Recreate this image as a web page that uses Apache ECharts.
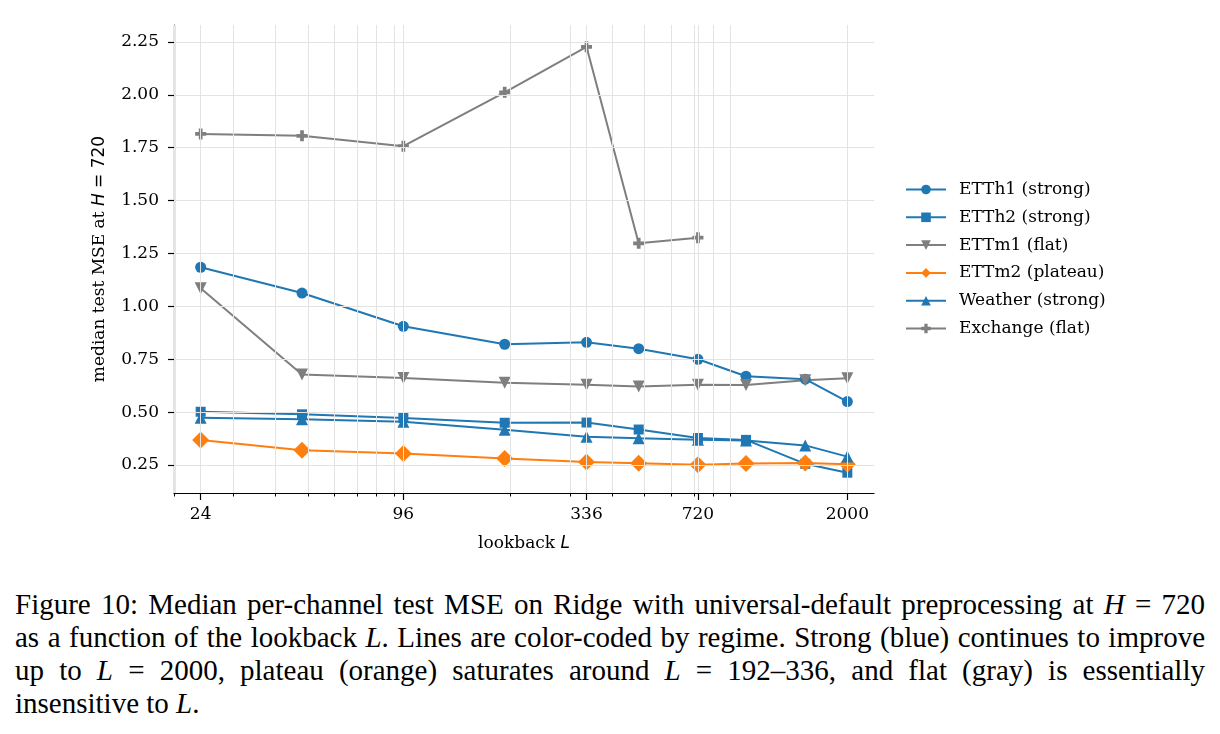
<!DOCTYPE html>
<html>
<head>
<meta charset="utf-8">
<title>Median test MSE vs lookback</title>
<script src="https://cdn.jsdelivr.net/npm/echarts@6/dist/echarts.min.js"></script>
<style>
  body { margin: 0; background: #fff; }
  #chart { position: absolute; left: 0; top: 0; width: 1220px; height: 570px; }
  #caption {
    position: absolute; left: 15px; top: 588px; width: 1190px;
    font-family: "Liberation Serif", serif; font-size: 29px; line-height: 33px;
    color: #000;
  }
  #caption .ln { white-space: nowrap; text-align: justify; text-align-last: justify; }
  #caption .last { white-space: nowrap; }
  #caption i { font-style: italic; }
</style>
</head>
<body>
<div id="chart"></div>
<div id="caption">
  <div class="ln">Figure 10: Median per-channel test MSE on Ridge with universal-default preprocessing at <i>H</i> = 720</div>
  <div class="ln">as a function of the lookback <i>L</i>. Lines are color-coded by regime. Strong (blue) continues to improve</div>
  <div class="ln">up to <i>L</i> = 2000, plateau (orange) saturates around <i>L</i> = 192&ndash;336, and flat (gray) is essentially</div>
  <div class="last">insensitive to <i>L</i>.</div>
</div>
<script>
// lookback values (x) and tick positions
const lookbacks = [24, 48, 96, 192, 336, 480, 720, 1000, 1500, 2000]
const xMajorTicks = [24, 96, 336, 720, 2000]
const xMinorTicks = [20, 30, 40, 50, 60, 70, 80, 90, 200, 300, 400, 500, 600, 700, 800, 900, 2000]
const yTicks = [0.25, 0.5, 0.75, 1.0, 1.25, 1.5, 1.75, 2.0, 2.25]

// median test MSE at H = 720
const etth1 = [1.185, 1.063, 0.906, 0.821, 0.830, 0.800, 0.750, 0.670, 0.656, 0.550]
const etth2 = [0.502, 0.490, 0.473, 0.450, 0.451, 0.418, 0.378, 0.369, 0.256, 0.214]
const ettm1 = [1.086, 0.678, 0.661, 0.639, 0.630, 0.621, 0.630, 0.629, 0.651, 0.660]
const ettm2 = [0.368, 0.320, 0.305, 0.281, 0.265, 0.259, 0.252, 0.258, 0.260, 0.254]
const weather = [0.474, 0.467, 0.455, 0.417, 0.384, 0.377, 0.370, 0.366, 0.343, 0.290]
const exchange = [1.815, 1.806, 1.757, 2.012, 2.227, 1.298, 1.325]

const BLUE = '#1f77b4'
const ORANGE = '#ff7f0e'
const GRAY = '#7f7f7f'
const GRID = '#e3e3e3'
const PLUS = 'path://M0.33,0H0.67V0.33H1V0.67H0.67V1H0.33V0.67H0V0.33H0.33Z'

function pairs(vals) {
  return vals.map((v, i) => [lookbacks[i], v])
}

function lineSeries(name, vals, color, symbol, size, rotate) {
  return {
    name: name,
    type: 'line',
    data: pairs(vals),
    xAxisIndex: 0,
    yAxisIndex: 0,
    symbol: symbol,
    symbolSize: size,
    symbolRotate: rotate || 0,
    showAllSymbol: true,
    z: 3,
    lineStyle: { color: color, width: 2 },
    itemStyle: { color: color },
    emphasis: { disabled: true }
  }
}

const chart = echarts.init(document.getElementById('chart'))

const gridLines = []
xMajorTicks.concat(xMinorTicks).forEach(v => gridLines.push({ xAxis: v }))
yTicks.forEach(v => gridLines.push({ yAxis: v }))

const serifFont = 'DejaVu Serif'
const fs = 17

chart.setOption({
  animation: false,
  grid: { left: 174, top: 25, width: 700, height: 468 },
  legend: {
    orient: 'vertical',
    left: 905,
    top: 181,
    padding: 0,
    itemWidth: 40,
    itemHeight: 12,
    itemGap: 10.8,
    data: ['ETTh1 (strong)', 'ETTh2 (strong)', 'ETTm1 (flat)', 'ETTm2 (plateau)', 'Weather (strong)', 'Exchange (flat)'],
    textStyle: { fontFamily: serifFont, fontSize: fs, color: '#000', padding: [0, 0, 0, 8], lineHeight: 17 }
  },
  xAxis: [{
    type: 'log',
    logBase: 10,
    min: 20,
    max: 2400,
    position: 'bottom',
    name: 'lookback {i|L}',
    nameLocation: 'middle',
    nameGap: 42,
    nameTextStyle: {
      fontFamily: serifFont, fontSize: fs, color: '#000',
      rich: { i: { fontFamily: 'DejaVu Sans', fontStyle: 'italic', fontSize: fs, color: '#000' } }
    },
    axisLine: { lineStyle: { color: '#000', width: 1.2 } },
    axisTick: { customValues: xMajorTicks, length: 7, lineStyle: { color: '#000', width: 1.2 } },
    axisLabel: {
      customValues: xMajorTicks,
      margin: 13,
      fontFamily: serifFont, fontSize: fs, color: '#000',
      formatter: v => String(Math.round(v))
    },
    splitLine: { show: false },
    minorTick: { show: false }
  }, {
    type: 'log',
    logBase: 10,
    min: 20,
    max: 2400,
    position: 'bottom',
    offset: 0,
    axisLine: { show: false },
    axisTick: { customValues: xMinorTicks, length: 3.5, lineStyle: { color: '#000', width: 1 } },
    axisLabel: { show: false },
    splitLine: { show: false }
  }],
  yAxis: {
    type: 'value',
    min: 0.118,
    max: 2.33,
    name: 'median test MSE at {i|H}{m| = 720}',
    nameLocation: 'middle',
    nameRotate: 90,
    nameGap: 66,
    nameTextStyle: {
      fontFamily: serifFont, fontSize: fs, color: '#000',
      rich: {
        i: { fontFamily: 'DejaVu Sans', fontStyle: 'italic', fontSize: fs, color: '#000' },
        m: { fontFamily: 'DejaVu Sans', fontSize: fs, color: '#000' }
      }
    },
    axisLine: { show: true, lineStyle: { color: '#000', width: 1.2 } },
    axisTick: { show: true, customValues: yTicks, length: 6, lineStyle: { color: '#000', width: 1.2 } },
    axisLabel: {
      customValues: yTicks,
      margin: 15,
      fontFamily: serifFont, fontSize: fs, color: '#000',
      formatter: v => v.toFixed(2)
    },
    splitLine: { show: false }
  },
  series: [
    {
      name: 'grid',
      type: 'line',
      data: [],
      z: 1,
      silent: true,
      markLine: {
        silent: true,
        symbol: 'none',
        label: { show: false },
        lineStyle: { color: GRID, width: 1, type: 'solid' },
        emphasis: { disabled: true },
        data: gridLines
      }
    },
    lineSeries('ETTh1 (strong)', etth1, BLUE, 'circle', 11),
    lineSeries('ETTh2 (strong)', etth2, BLUE, 'rect', 10),
    lineSeries('ETTm1 (flat)', ettm1, GRAY, 'triangle', 12, 180),
    lineSeries('ETTm2 (plateau)', ettm2, ORANGE, 'diamond', 17),
    lineSeries('Weather (strong)', weather, BLUE, 'triangle', 12),
    lineSeries('Exchange (flat)', exchange, GRAY, PLUS, 11)
  ]
})
</script>
</body>
</html>
